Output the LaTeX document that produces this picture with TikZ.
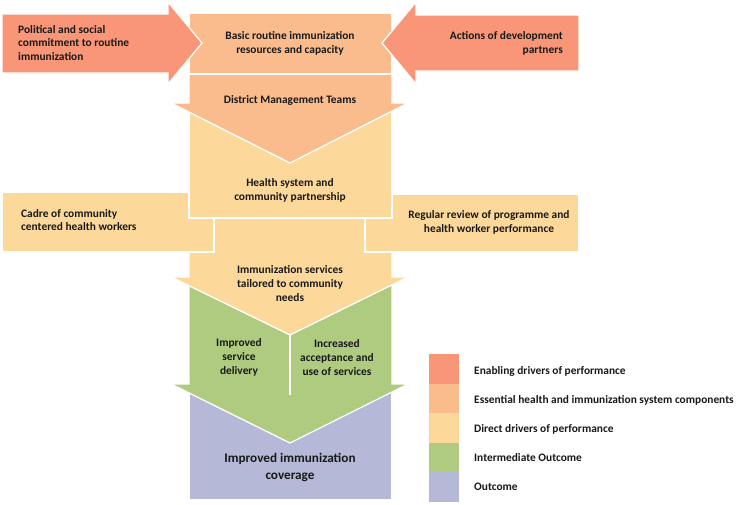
\documentclass[tikz,border=0pt]{standalone}
\usepackage{fontspec}
\setmainfont{Carlito}
\definecolor{enab}{RGB}{249,150,120}
\definecolor{ess}{RGB}{250,188,140}
\definecolor{dir}{RGB}{252,216,155}
\definecolor{inter}{RGB}{174,203,127}
\definecolor{outc}{RGB}{181,184,215}
\tikzset{
  blk/.style={draw=white, line width=1.3pt, line join=miter},
  txt/.style={font=\bfseries\fontsize{11.4}{13.8}\selectfont, text=black!90, inner sep=0pt},
  bigtxt/.style={font=\bfseries\fontsize{13.2}{17}\selectfont, text=black!90, inner sep=0pt, align=center},
  legtxt/.style={font=\bfseries\fontsize{11.4}{12}\selectfont, text=black!90, inner sep=0pt, anchor=west}
}
\begin{document}
\begin{tikzpicture}[x=1pt,y=-1pt]
\useasboundingbox[fill=white] (0,0) rectangle (737,504);
% outcome box
\filldraw[blk, fill=outc] (189,370) rectangle (392,500);
% green chevron
\filldraw[blk, fill=inter] (189,270) -- (392,270) -- (392,384) -- (408,384) -- (290,443) -- (171,384) -- (189,384) -- cycle;
\draw[white, line width=1.3pt] (290,330) -- (290,395);
% chevron 2
\filldraw[blk, fill=dir] (189,218) -- (392,218) -- (392,277) -- (408,277) -- (290,335) -- (171,277) -- (189,277) -- cycle;
% side boxes
\filldraw[blk, fill=dir] (2,192) rectangle (214,252);
\filldraw[blk, fill=dir] (365,194) rectangle (579,252);
% health box
\filldraw[blk, fill=dir] (189,100) rectangle (392,218);
% chevron 1
\filldraw[blk, fill=ess] (189,74) -- (392,74) -- (392,103) -- (408,103) -- (290,163) -- (171,103) -- (189,103) -- cycle;
% basic box
\filldraw[blk, fill=ess] (189,13) rectangle (392,74);
% side arrows
\filldraw[blk, fill=enab] (2,14) -- (168,14) -- (168,2) -- (202,43) -- (168,84) -- (168,73) -- (2,73) -- cycle;
\filldraw[blk, fill=enab] (579,15) -- (416,15) -- (416,2) -- (382,43) -- (416,84) -- (416,71) -- (579,71) -- cycle;
% texts
\node[txt, align=left, anchor=west] (pol) at (18,43) {Political and social\\commitment to routine\\immunization};
\node[txt, align=right, anchor=east] (act) at (563,43) {Actions of development\\partners};
\node[txt, align=center] (bas) at (290,43) {Basic routine immunization\\resources and capacity};
\node[txt, align=center] (dmt) at (290,100) {District Management Teams};
\node[txt, align=center] (hsc) at (290,190) {Health system and\\community partnership};
\node[txt, align=left, anchor=west] (cad) at (21,220) {Cadre of community\\centered health workers};
\node[txt, align=center] (reg) at (489,222) {Regular review of programme and\\health worker performance};
\node[txt, align=center] (ims) at (290,283.5) {Immunization services\\tailored to community\\needs};
\node[txt, align=center] (isd) at (239,357.5) {Improved\\service\\delivery};
\node[txt, align=center] (iau) at (337,357.5) {Increased\\acceptance and\\use of services};
\node[bigtxt] (iic) at (290,467) {Improved immunization\\coverage};
% legend
\fill[enab] (429,354) rectangle (459,383.6);
\fill[ess] (429,383.6) rectangle (459,413.2);
\fill[dir] (429,413.2) rectangle (459,442.8);
\fill[inter] (429,442.8) rectangle (459,472.4);
\fill[outc] (429,472.4) rectangle (459,502);
\node[legtxt] (l1) at (474,371) {Enabling drivers of performance};
\node[legtxt] (l2) at (474,400) {Essential health and immunization system components};
\node[legtxt] (l3) at (474,429) {Direct drivers of performance};
\node[legtxt] (l4) at (474,458) {Intermediate Outcome};
\node[legtxt] (l5) at (474,487) {Outcome};
\end{tikzpicture}
\end{document}
